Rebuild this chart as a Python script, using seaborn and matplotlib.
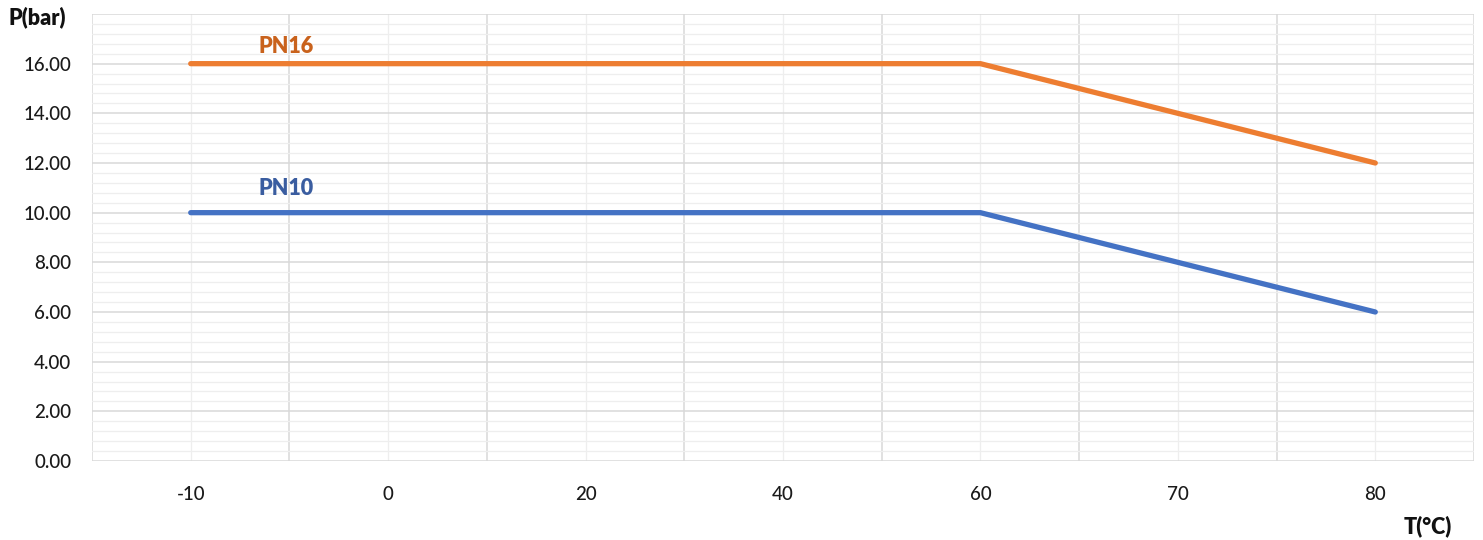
import matplotlib
matplotlib.use("Agg")
import matplotlib.pyplot as plt
from matplotlib.ticker import MultipleLocator, FixedLocator, FuncFormatter
import seaborn as sns
import pandas as pd

# Temperature categories (°C) and allowed pressure (bar) per rating
temps = ["-10", "0", "20", "40", "60", "70", "80"]
pn16 = [16, 16, 16, 16, 16, 14, 12]
pn10 = [10, 10, 10, 10, 10, 8, 6]
series_names = ["PN16", "PN10"]
y_ticks = [0, 2, 4, 6, 8, 10, 12, 14, 16, 18]

line_colors = {"PN16": "#ED7D31", "PN10": "#4472C4"}
label_colors = {"PN16": "#C9621C", "PN10": "#3A5DA0"}

df = pd.DataFrame({
    "T": temps * 2,
    "P": pn16 + pn10,
    "series": [series_names[0]] * len(temps) + [series_names[1]] * len(temps),
})
df["T"] = pd.Categorical(df["T"], categories=temps, ordered=True)
df["x"] = df["T"].cat.codes

sns.set_theme(style="white")
plt.rcParams["font.family"] = ["Lato", "DejaVu Sans"]

W, H = 1483, 540
fig = plt.figure(figsize=(W / 100, H / 100), dpi=100)
ax = fig.add_axes([92 / W, 1 - 461 / H, (1474 - 92) / W, (461 - 14) / H])

sns.lineplot(data=df, x="x", y="P", hue="series", palette=line_colors,
             linewidth=3.8, ax=ax, legend=False, sort=False,
             solid_capstyle="round", solid_joinstyle="round", zorder=3)

ax.set_xlim(-0.5, len(temps) - 0.5)
ax.set_ylim(0, 18)

# category boundaries carry the major grid and outward ticks
ax.xaxis.set_major_locator(FixedLocator([i - 0.5 for i in range(len(temps) + 1)]))
ax.xaxis.set_major_formatter(FuncFormatter(lambda v, p: ""))
ax.set_xticks(range(len(temps)), temps, minor=True)
ax.tick_params(axis="x", which="major", length=5, width=1, color="#d9d9d9", direction="out")
ax.tick_params(axis="x", which="minor", length=0, pad=18, labelsize=13.5, labelcolor="#1a1a1a")

ax.yaxis.set_major_locator(FixedLocator(y_ticks))
ax.yaxis.set_major_formatter(FuncFormatter(lambda v, p: "" if v >= 18 else f"{v:.2f}"))
ax.yaxis.set_minor_locator(MultipleLocator(0.4))
ax.tick_params(axis="y", which="both", length=0, pad=15, labelsize=13.5, labelcolor="#1a1a1a")

for lbl in ax.get_xticklabels(minor=True) + ax.get_yticklabels():
    lbl.set_fontweight("medium")

ax.grid(which="major", axis="both", color="#d9d9d9", linewidth=1.1)
ax.grid(which="minor", axis="both", color="#eeeeee", linewidth=0.9)
ax.set_axisbelow(True)
for s in ax.spines.values():
    s.set_visible(False)
ax.set_xlabel("")
ax.set_ylabel("")

# series labels above each curve
ax.text(0.485, 16.7, "PN16", color=label_colors["PN16"], fontsize=15.5,
        fontweight="heavy", ha="center", va="center")
ax.text(0.485, 10.97, "PN10", color=label_colors["PN10"], fontsize=15.5,
        fontweight="heavy", ha="center", va="center")

# axis titles
fig.text(37 / W, 1 - 17 / H, "P(bar)", fontsize=15.5, fontweight="heavy",
         color="#111111", ha="center", va="center")
fig.text(1428 / W, 1 - 526 / H, "T(°C)", fontsize=15.5, fontweight="heavy",
         color="#111111", ha="center", va="center")

fig.savefig("out.png", dpi=100, facecolor="white")
